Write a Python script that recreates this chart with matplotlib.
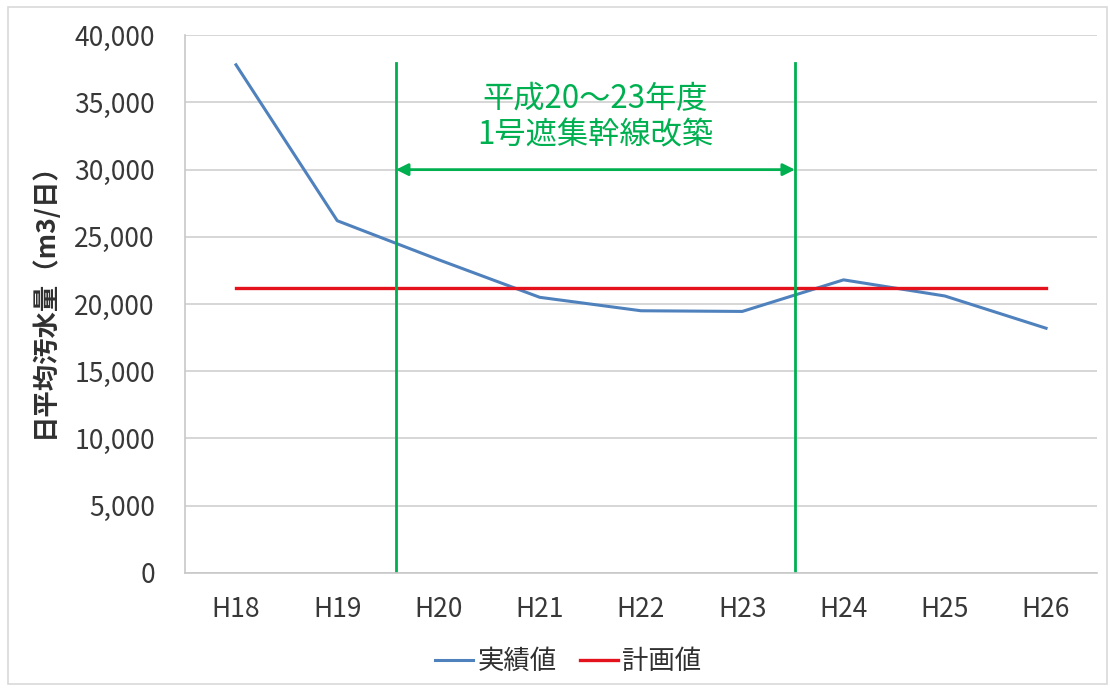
import matplotlib.pyplot as plt
from matplotlib.ticker import FuncFormatter

plt.rcParams['font.family'] = ['Noto Sans CJK JP', 'DejaVu Sans']

years = ['H18', 'H19', 'H20', 'H21', 'H22', 'H23', 'H24', 'H25', 'H26']
actual = [37800, 26200, 23300, 20500, 19500, 19450, 21800, 20600, 18200]
plan = [21200] * 9
work_start = 1.58   # 平成20年度 着手
work_end = 5.52     # 平成23年度 完了

fig = plt.figure(figsize=(11.1, 6.91), dpi=100)
ax = fig.add_axes([0.167, 0.171, 0.821, 0.778])

x = range(len(years))
ax.plot(x, actual, color='#4f81bd', lw=2.2, label='実績値')
ax.plot(x, plan, color='#e3121c', lw=2.4, label='計画値')

# 工事期間
for xv in (work_start, work_end):
    ax.plot([xv, xv], [0, 37900], color='#00b050', lw=2)
ax.annotate('', xy=(work_start, 30000), xytext=(work_end, 30000),
            arrowprops=dict(arrowstyle='<|-|>', color='#00b050', lw=2,
                            mutation_scale=18, shrinkA=0, shrinkB=0))
ax.text((work_start + work_end) / 2, 33900, '平成20～23年度\n1号遮集幹線改築',
        color='#00b050', fontsize=22.5, ha='center', va='center', linespacing=1.2)

ax.set_xlim(-0.5, len(years) - 0.5)
ax.set_ylim(0, 40000)
ax.set_yticks(range(0, 40001, 5000))
ax.yaxis.set_major_formatter(FuncFormatter(lambda v, p: f'{int(v):,}'))
ax.set_xticks(list(x))
ax.set_xticklabels(years)
ax.tick_params(axis='both', length=0, labelsize=19, colors='#383838')
ax.tick_params(axis='x', pad=17)
ax.tick_params(axis='y', pad=22)
ax.grid(axis='y', color='#d0d0d0', lw=1.2)
ax.set_axisbelow(True)
for s in ('top', 'right'):
    ax.spines[s].set_visible(False)
for s in ('left', 'bottom'):
    ax.spines[s].set_color('#c8c8c8')
    ax.spines[s].set_linewidth(1.2)

ax.set_ylabel('日平均汚水量（m3/日）', fontsize=19, fontweight='bold',
              color='#303030')
ax.yaxis.set_label_coords(-0.14, 0.52)

fig.legend(loc='center', bbox_to_anchor=(0.512, 0.043), ncol=2, frameon=False,
           fontsize=19, handlelength=1.45, handletextpad=0.15, columnspacing=0.9,
           labelcolor='#303030')

# 外枠
fig.patches.append(plt.Rectangle((0.007, 0.01), 0.99, 0.98, transform=fig.transFigure,
                                 fill=False, ec='#d9d9d9', lw=1.2))

fig.savefig('out.png', dpi=100)
